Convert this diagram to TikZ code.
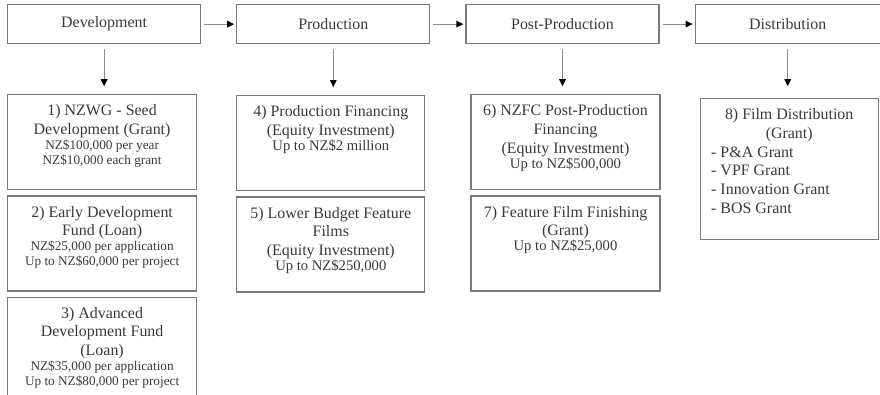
\documentclass[tikz,border=0pt]{standalone}
\usepackage{fontspec}
\setmainfont{Liberation Serif}
\usepackage{tikz}
\usetikzlibrary{arrows.meta, positioning}

\definecolor{boxline}{HTML}{7A7A7A}
\definecolor{linegray}{HTML}{8A8A8A}
\definecolor{textgray}{HTML}{3A3A3A}

\newcommand{\mainsz}{\fontsize{16}{18.8}\selectfont}
\newcommand{\midsz}{\fontsize{14.7}{15.2}\selectfont}
\newcommand{\smallsz}{\fontsize{13.3}{14.8}\selectfont}

\begin{document}
\begin{tikzpicture}[
x=1bp, y=1bp,
stage/.style={
rectangle,
draw=boxline,
line width=1.2bp,
text=textgray,
font=\mainsz,
minimum width=193bp,
minimum height=39bp,
inner sep=0pt
},
fund/.style={
rectangle,
draw=boxline,
line width=1.2bp,
text=textgray,
font=\mainsz,
text width=185bp,
inner xsep=2bp,
inner ysep=7bp,
text height=14bp,
text depth=67bp,
align=flush center
},
arrow/.style={
-{Triangle[length=7bp, width=6.5bp, color=black]},
draw=linegray,
line width=1.2bp
}
]

\fill [white] (0,0) rectangle (880,-394);
\path [use as bounding box, clip] (0,0) rectangle (880,-394);

\node (dev) [stage, anchor=north west] at (7,-4) {Development};

\node (prod) [stage, right=35bp of dev] {Production};

\node (post) [stage, right=35bp of prod] {Post-Production};

\node (dist) [stage, right=35bp of post, minimum width=185bp] {Distribution};

\node (fund1) [fund, below right=50bp and 0bp of dev.south west]
{1) NZWG - Seed\\Development (Grant)\par
\smallsz NZ\$100,000 per year\\NZ\$10,000 each grant\par};

\node (fund2) [fund, below=5bp of fund1]
{2) Early Development\\Fund (Loan)\par
\smallsz NZ\$25,000 per application\\Up to NZ\$60,000 per project\par};

\node (fund3) [fund, below=5bp of fund2, text depth=100bp]
{3) Advanced\\Development Fund\\(Loan)\par
\smallsz NZ\$35,000 per application\\Up to NZ\$80,000 per project\par};

\node (fund4) [fund, below right=51bp and 0bp of prod.south west, text width=184bp]
{4) Production Financing\\(Equity Investment)\par
\midsz Up to NZ\$2 million\par};

\node (fund5) [fund, below=5bp of fund4, text width=184bp]
{5) Lower Budget Feature\\Films\\(Equity Investment)\par
\midsz Up to NZ\$250,000\par};

\node (fund6) [fund, below right=50bp and 5bp of post.south west]
{6) NZFC Post-Production\\Financing\\(Equity Investment)\par
\midsz Up to NZ\$500,000\par};

\node (fund7) [fund, below=5bp of fund6]
{7) Feature Film Finishing\\(Grant)\par
\midsz Up to NZ\$25,000\par};

\node (fund8) [fund, below right=54bp and 5bp of dist.south west, text width=174bp, text depth=113bp]
{8) Film Distribution\\(Grant)\par
\parbox[t]{\linewidth}{\raggedright\leftskip=9bp - P\&A Grant\\- VPF Grant\\- Innovation Grant\\- BOS Grant}};

\draw [arrow, shorten <=3bp, shorten >=2bp] (dev) -- (prod);
\draw [arrow, shorten <=3bp, shorten >=2bp] (prod) -- (post);
\draw [arrow, shorten <=3bp, shorten >=2bp] (post) -- (dist);

\draw [arrow, shorten <=5bp, shorten >=8bp] (dev) -- (dev |- fund1.north);
\draw [arrow, shorten <=5bp, shorten >=8bp] (prod) -- (prod |- fund4.north);
\draw [arrow, shorten <=5bp, shorten >=8bp] (post) -- (post |- fund6.north);
\draw [arrow, shorten <=5bp, shorten >=12bp] (dist) -- (dist |- fund8.north);

\end{tikzpicture}
\end{document}
